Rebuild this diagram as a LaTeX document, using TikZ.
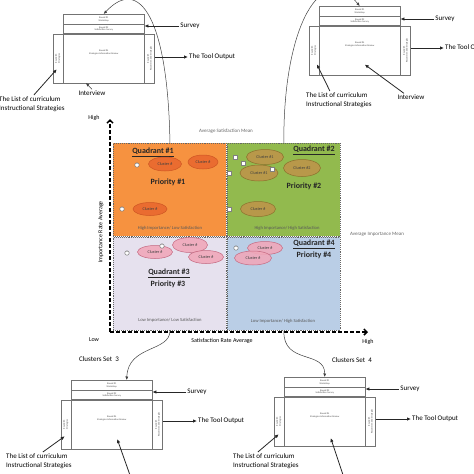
\documentclass[tikz,border=0pt]{standalone}
\usepackage{fontspec}
\setmainfont{Carlito}
\usetikzlibrary{positioning, shapes.geometric, arrows.meta, calc}

\definecolor{qorange}{RGB}{246,146,64}
\definecolor{qgreen}{RGB}{146,186,78}
\definecolor{qlilac}{RGB}{230,225,238}
\definecolor{qblue}{RGB}{186,206,230}
\definecolor{corange}{RGB}{234,108,48}
\definecolor{corangeD}{RGB}{205,85,35}
\definecolor{cgreen}{RGB}{184,152,74}
\definecolor{cgreenD}{RGB}{140,112,45}
\definecolor{cpink}{RGB}{240,168,186}
\definecolor{cpinkD}{RGB}{196,104,128}

\tikzset{
  roundbox/.style={draw=black!55, line width=0.4pt, inner sep=0pt, fill=white},
  tinytext/.style={font=\fontsize{2.4}{2.9}\selectfont, align=center, text=black!70, inner sep=0pt},
  lbl/.style={font=\fontsize{7}{9.5}\selectfont, align=left, inner sep=1pt},
  arr/.style={-{Latex[length=4pt,width=3.5pt]}, line width=0.8pt, black!85},
  link/.style={-{Latex[length=3.5pt,width=3pt]}, line width=0.5pt, black!75},
  axis/.style={-{Straight Barb[length=3pt,width=6pt]}, line width=1.5pt, dash pattern=on 4pt off 2pt},
  quad/.style={draw=black!60, densely dotted, line width=0.9pt, inner sep=0pt,
    minimum width=113pt, minimum height=93pt},
  cluster/.style={ellipse, line width=0.5pt, inner sep=0pt, font=\fontsize{4.2}{5}\selectfont},
  clA/.style={cluster, fill=corange, draw=corangeD, text=black!75},
  clB/.style={cluster, fill=cgreen, draw=cgreenD, text=black!75},
  clC/.style={cluster, fill=cpink, fill opacity=0.9, text opacity=1, draw=cpinkD, text=black!75},
  grip/.style={circle, draw=black!60, fill=white, minimum size=4.5pt, inner sep=0pt,
    font=\fontsize{4}{4}\selectfont},
  gripsq/.style={draw=black!50, fill=white, minimum size=3.5pt, inner sep=0pt},
  qtitle/.style={font=\bfseries\fontsize{8}{9}\selectfont, text=black!85, inner sep=0pt},
  qnote/.style={font=\fontsize{4.6}{5}\selectfont, text=black!65, inner sep=0pt},
  meanlbl/.style={font=\fontsize{5}{6}\selectfont, text=black!60},
  axlbl/.style={font=\fontsize{6}{7}\selectfont}
}

% one tool module: #1 name, #2 top left corner of the first round box
\newcommand{\ToolModule}[2]{%
  \begin{scope}[shift={(#2)}]
    \node[roundbox, minimum width=81pt, minimum height=9.5pt, anchor=north west] (#1-r1) at (0,0) {};
    \node[roundbox, minimum width=81pt, minimum height=9.5pt, below=0pt of #1-r1] (#1-r2) {};
    \node[roundbox, minimum width=81pt, minimum height=49pt, below=0pt of #1-r2] (#1-main) {};
    \node[roundbox, minimum width=10pt, minimum height=49pt, left=0pt of #1-main] (#1-ls) {};
    \node[roundbox, minimum width=10pt, minimum height=49pt, right=0pt of #1-main] (#1-rs) {};
    \node[tinytext] (#1-t1) at (#1-r1) {Round \#1\\Workshop};
    \node[tinytext] (#1-t2) at (#1-r2) {Round \#2\\Satisfaction Survey};
    \node[tinytext] (#1-tm) at ([yshift=6pt]#1-main.center) {Round \#4\\Strategies Information Review};
    \node[tinytext, rotate=90] (#1-tl) at (#1-ls) {Round \#3\\Strategies};
    \node[tinytext, rotate=90] (#1-tr) at (#1-rs) {Round \#5\\Recommended Strategies};
  \end{scope}}

\begin{document}
\begin{tikzpicture}[x=1pt, y=-1pt]
  \useasboundingbox (0,0) rectangle (474,474);

  % quadrants
  \node[quad, fill=qorange, anchor=north west] (Q1) at (113,143) {};
  \node[quad, fill=qgreen, right=0pt of Q1] (Q2) {};
  \node[quad, fill=qlilac, below=0pt of Q1] (Q3) {};
  \node[quad, fill=qblue, right=0pt of Q3] (Q4) {};

  % axes
  \coordinate (ax0) at (110,332);
  \coordinate (axY) at (110,119);
  \coordinate (axX) at (368,332);
  \draw[axis] (ax0) -- (axY);
  \draw[axis] (ax0) -- (axX);
  \node[axlbl] (hiY) at (94,118) {High};
  \node[axlbl] (loX) at (94,340) {Low};
  \node[axlbl] (hiX) at (368,342) {High};
  \node[axlbl] (xlab) at (222,341) {Satisfaction Rate Average};
  \node[axlbl, rotate=90] (ylab) at (101,232) {Importance Rate Average};
  \node[meanlbl] (msat) at (226,131) {Average Satisfaction Mean};
  \node[meanlbl] (mimp) at (377,234) {Average Importance Mean};

  % quadrant 1
  \node[qtitle] (q1t) at (153,152) {\underline{Quadrant \#1}};
  \node[qtitle] (p1) at (168,182) {Priority \#1};
  \node[clA, minimum width=33pt, minimum height=14pt] (c1) at (165,164) {Cluster \#};
  \node[clA, minimum width=30pt, minimum height=14pt] (c2) at (203,162) {Cluster \#};
  \node[clA, minimum width=34pt, minimum height=13pt] (c3) at (150,209) {Cluster \#};
  \node[grip] (g1) at (137,165) {\textendash};
  \node[grip] (g2) at (122,209) {\textendash};
  \node[qnote] (n1) at (170,228) {High Importance/ Low Satisfaction};

  % quadrant 2
  \node[qtitle] (q2t) at (314,150) {\underline{Quadrant \#2}};
  \node[qtitle] (p2) at (304,186) {Priority \#2};
  \node[clB, minimum width=37pt, minimum height=15pt] (c4) at (265,157) {Cluster \#1};
  \node[clB, minimum width=38pt, minimum height=16pt] (c5) at (259,173) {Cluster \#1};
  \node[clB, minimum width=37pt, minimum height=17pt] (c6) at (302,168) {Cluster \#2};
  \node[clB, minimum width=35pt, minimum height=15pt] (c7) at (258,209) {Cluster \#};
  \node[gripsq] (g3) at (235,157) {};
  \node[gripsq] (g4) at (243,163) {};
  \node[gripsq] (g5) at (229,173) {};
  \node[gripsq] (g6) at (272,169) {};
  \node[gripsq] (g7) at (229,209) {};
  \node[qnote] (n2) at (287,228) {High Importance/ High Satisfaction};

  % quadrant 3
  \node[clC, minimum width=35pt, minimum height=13pt] (c8) at (155,252) {Cluster \#};
  \node[clC, minimum width=35pt, minimum height=15pt] (c9) at (190,245) {Cluster \#};
  \node[clC, minimum width=35pt, minimum height=13pt] (c10) at (206,257) {Cluster \#};
  \node[grip] (g8) at (127,253) {\textendash};
  \node[grip] (g9) at (162,246) {\textendash};
  \node[qtitle] (q3t) at (169,273) {\underline{Quadrant \#3}};
  \node[qtitle] (p3) at (168,284) {Priority \#3};
  \node[qnote] (n3) at (170,320) {Low Importance/ Low Satisfaction};

  % quadrant 4
  \node[clC, minimum width=35pt, minimum height=13pt] (c11) at (265,248) {Cluster \#};
  \node[clC, minimum width=37pt, minimum height=14pt] (c12) at (253,258) {Cluster \#};
  \node[grip] (g10) at (236,248) {\textendash};
  \node[qtitle] (q4t) at (314,244) {\underline{Quadrant \#4}};
  \node[qtitle] (p4) at (314,255) {Priority \#4};
  \node[qnote] (n4) at (283,321) {Low Importance/ High Satisfaction};

  % the four tool modules
  \ToolModule{TL}{63,14}
  \ToolModule{TR}{319,6}
  \ToolModule{BL}{71,380}
  \ToolModule{BR}{284,377}

  % links from the quadrants
  \draw[link] (Q1.north) .. controls (168,20) and (140,-25) .. (TL-r1.north);
  \draw[link] (Q2.north) .. controls (283,25) and (322,-40) .. (TR-r1.north);
  \draw[link] (Q3.south) .. controls (170,352) and (128,345) .. ([xshift=15pt]BL-r1.north);
  \draw[link] (Q4.south) .. controls (283,365) and (325,350) .. (BR-r1.north);
  \node[lbl] (setBL) at (99,359) {Clusters Set\ \ 3};
  \node[lbl] (setBR) at (352,360) {Clusters Set\ \ 4};

  % top left labels
  \node[lbl] (svTL) at (190,26) {Survey};
  \draw[arr] (svTL.west) -- (svTL.west -| TL-r2.east);
  \node[lbl, anchor=west] (toTL) at (188,57) {The Tool Output};
  \draw[arr] (TL-rs.east |- toTL.west) -- (toTL.west);
  \node[lbl, anchor=north west] (liTL) at (-2,95) {The List of curriculum\\Instructional Strategies};
  \draw[arr] ([xshift=2pt]liTL.north) -- ([xshift=-1pt,yshift=14pt]TL-ls.south);
  \node[lbl] (ivTL) at (92,93) {Interview};
  \coordinate (ivTLtip) at (86,83);
  \draw[link] (ivTL.north) -- (ivTLtip);

  % top right labels
  \node[lbl] (svTR) at (445,19) {Survey};
  \draw[arr] (svTR.west) -- (svTR.west -| TR-r2.east);
  \node[lbl, anchor=west] (toTR) at (444,48) {The Tool Output};
  \draw[arr] (TR-rs.east |- toTR.west) -- (toTR.west);
  \node[lbl, anchor=north west] (liTR) at (305,91) {The List of curriculum\\Instructional Strategies};
  \draw[arr] ([xshift=-9pt]liTR.north) -- ([xshift=3pt,yshift=11pt]TR-ls.south);
  \node[lbl] (ivTR) at (411,97) {Interview};
  \draw[arr] ([xshift=-7pt]ivTR.north) -- ([xshift=5pt,yshift=-14pt]TR-main.center);

  % bottom left labels
  \node[lbl] (svBL) at (197,392) {Survey};
  \draw[arr] (svBL.west) -- (svBL.west -| BL-r2.east);
  \node[lbl, anchor=west] (toBL) at (197,421) {The Tool Output};
  \draw[arr] (BL-rs.east |- toBL.west) -- (toBL.west);
  \node[lbl, anchor=north west] (liBL) at (5,452) {The List of curriculum\\Instructional Strategies};
  \draw[arr] ([xshift=4pt]liBL.north) -- ([xshift=-1pt,yshift=13pt]BL-ls.south);
  \coordinate (ivBL) at (131,478);
  \draw[arr] (ivBL) -- ([xshift=5.5pt,yshift=-14.5pt]BL-main.center);

  % bottom right labels
  \node[lbl] (svBR) at (410,389) {Survey};
  \draw[arr] (svBR.west) -- (svBR.west -| BR-r2.east);
  \node[lbl, anchor=west] (toBR) at (411,419) {The Tool Output};
  \draw[arr] (BR-rs.east |- toBR.west) -- (toBR.west);
  \node[lbl, anchor=north west] (liBR) at (232,452) {The List of curriculum\\Instructional Strategies};
  \draw[arr] ([xshift=-8pt]liBR.north) -- ([xshift=0pt,yshift=12pt]BR-ls.south);
  \coordinate (ivBR) at (344,478);
  \draw[arr] (ivBR) -- ([xshift=6pt,yshift=-16.5pt]BR-main.center);
\end{tikzpicture}
\end{document}
